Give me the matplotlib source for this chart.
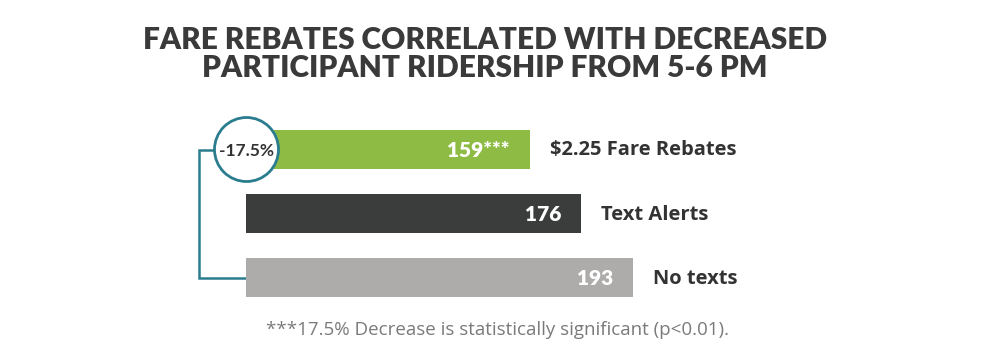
import numpy as np
import matplotlib
matplotlib.use("Agg")
from matplotlib import pyplot as plt
from matplotlib.patches import Ellipse

# data
categories = ["$2.25 Fare Rebates", "Text Alerts", "No texts"]
riders = np.array([159, 176, 193])
value_labels = ["159***", "176", "193"]
bar_colors = ["#8dbb43", "#3b3d3d", "#adacab"]
change_label = "-17.5%"
title = "FARE REBATES CORRELATED WITH DECREASED\nPARTICIPANT RIDERSHIP FROM 5-6 PM"
footnote = "***17.5% Decrease is statistically significant (p<0.01)."

base = 66.2          # axis is truncated, bars start here
px_per_unit = 3.05
left_px = 246.5

W, H = 995, 358
fig = plt.figure(figsize=(W / 100, H / 100), dpi=100)
ax = fig.add_axes([0, 0, 1, 1])
ax.set_xlim(base - left_px / px_per_unit, base + (W - left_px) / px_per_unit)
ax.set_ylim(H, 0)
ax.axis("off")


def px(dx):
    # pixel offset -> data units along x
    return dx / px_per_unit


teal = "#2a7d8e"
ypos = np.array([149.5, 213.5, 277.5])
ax.barh(ypos, riders - base, left=base, height=39, color=bar_colors, zorder=2)

for y, v, lab, cat in zip(ypos, riders, value_labels, categories):
    ax.text(v - px(20), y + 1, lab, ha="right", va="center", color="white",
            fontsize=15, fontweight="heavy", family="Lato", zorder=3)
    ax.text(v + px(20), y + 1, cat, ha="left", va="center", color="#333333",
            fontsize=14.5, fontweight="bold", family="Open Sans")

# bracket from circle to "No texts" bar
r = 32
cx, cy = base, ypos[0]
ax.plot([cx - px(r), cx - px(47), cx - px(47), base],
        [cy, cy, ypos[2], ypos[2]], color=teal, lw=1.8, zorder=1,
        solid_joinstyle="miter")
ax.add_patch(Ellipse((cx, cy), 2 * px(r), 2 * r, facecolor="white",
                     edgecolor=teal, lw=2, zorder=4))
ax.text(cx, cy + 1, change_label, ha="center", va="center", color="#333333",
        fontsize=12.5, fontweight="bold", family="Lato", zorder=5)

fig.text(485 / W, 1 - 54 / H, title, ha="center", va="center",
         fontsize=21.5, fontweight="heavy", family="Lato", color="#3a3a3a",
         linespacing=1.0)
fig.text(498 / W, 1 - 330 / H, footnote, ha="center", va="center",
         fontsize=13.5, family="Open Sans", color="#7a7a7a")

fig.savefig("out.png", dpi=100)
